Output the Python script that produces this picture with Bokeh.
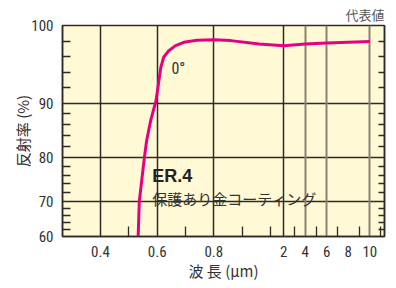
import numpy as np
from bokeh.plotting import figure
from bokeh.models import FixedTicker, LinearAxis, Grid, Label, Range1d
from bokeh.embed import file_html
from bokeh.resources import INLINE

# ---- data ----
wavelength_um = [0.533, 0.537, 0.555, 0.563, 0.577, 0.596, 0.605, 0.613, 0.623,
                 0.641, 0.665, 0.694, 0.741, 0.800, 0.860, 0.960,
                 2.0, 4.0, 6.0, 10.0]
reflectance_pct = [60.0, 70.0, 80.0, 83.1, 86.75, 90.3, 92.6, 94.6, 95.9,
                   96.75, 97.4, 97.83, 98.1, 98.15, 98.05, 97.6,
                   97.4, 97.6, 97.75, 97.95]

x_tick_um = [0.4, 0.6, 0.8, 2, 4, 6, 8, 10]
x_tick_labels = ["0.4", "0.6", "0.8", "2", "4", "6", "8", "10"]
x_minor_um = [0.5, 0.7, 0.9, 1.0, 3, 5, 7, 9, 11]
x_grid_dark_um = [0.4, 0.6, 0.8, 2]
x_grid_light_um = [4, 6, 10]

y_tick_pct = [60, 70, 80, 90, 100]
y_tick_labels = ["60", "70", "80", "90", "100"]
y_minor_pct = [62, 64, 66, 68, 72, 74, 76, 78, 82, 84, 86, 88, 92, 94, 96, 98]
y_grid_pct = [70, 80, 90]

# broken / stretched scales of the original chart
XB_UM = [0.2, 1.0, 2.0, 12.0]
XB_U = [0.2, 1.0, 1.047, 1.047 + 10 * 0.03795]
YB_PCT = [60, 70, 80, 90, 100]
YB_V = [0.0, 35.0, 79.0, 133.3, 210.7]


def to_u(w):
    return [round(float(v), 5) for v in np.interp(np.atleast_1d(w), XB_UM, XB_U)]


def to_v(r):
    return [round(float(v), 5) for v in np.interp(np.atleast_1d(r), YB_PCT, YB_V)]


DARK = "#2e2a26"
LIGHT = "#8a8273"
TXT = "#333333"
NUM_FONT = "Liberation Sans Narrow, Roboto Condensed, Liberation Sans"
CJK_FONT = "Noto Sans CJK JP"

p = figure(frame_width=322, frame_height=211, output_backend="svg",
           toolbar_location=None,
           x_range=Range1d(0.2659, 1.4025), y_range=Range1d(0, 210.7),
           min_border_left=62, min_border_right=12, min_border_top=25,
           min_border_bottom=51,
           background_fill_color="#FFF9D6", border_fill_color="white",
           outline_line_color=DARK, outline_line_width=1.5)

# title used as the small note at the top right
p.title.text = "代表値"
p.title.align = "right"
p.title.text_font = CJK_FONT
p.title.text_font_size = "13px"
p.title.text_font_style = "normal"
p.title.text_color = "#555555"
p.title.standoff = 3

# x axis
xt = to_u(x_tick_um)
p.xaxis.ticker = FixedTicker(ticks=xt, minor_ticks=to_u(x_minor_um))
p.xaxis.major_label_overrides = {t: l for t, l in zip(xt, x_tick_labels)}
p.xaxis.major_tick_in = 0
p.xaxis.major_tick_out = 0
p.xaxis.minor_tick_in = 10
p.xaxis.minor_tick_out = 0
p.xaxis.minor_tick_line_color = DARK
p.xaxis.minor_tick_line_width = 1.3
p.xaxis.axis_line_color = DARK
p.xaxis.axis_line_width = 1.5
p.xaxis.major_label_standoff = 9
p.xaxis.major_label_text_font = NUM_FONT
p.xaxis.major_label_text_font_size = "15px"
p.xaxis.major_label_text_color = TXT
p.xaxis.axis_label = "波 長 (μm)"
p.xaxis.axis_label_text_font = CJK_FONT
p.xaxis.axis_label_text_font_size = "15px"
p.xaxis.axis_label_text_font_style = "normal"
p.xaxis.axis_label_text_color = TXT
p.xaxis.axis_label_standoff = 0

# y axis
yt = to_v(y_tick_pct)
p.yaxis.ticker = FixedTicker(ticks=yt, minor_ticks=to_v(y_minor_pct))
p.yaxis.major_label_overrides = {t: l for t, l in zip(yt, y_tick_labels)}
p.yaxis.major_tick_in = 0
p.yaxis.major_tick_out = 0
p.yaxis.minor_tick_in = 8
p.yaxis.minor_tick_out = 0
p.yaxis.minor_tick_line_color = DARK
p.yaxis.minor_tick_line_width = 1.3
p.yaxis.axis_line_color = DARK
p.yaxis.axis_line_width = 1.5
p.yaxis.major_label_standoff = 9
p.yaxis.major_label_text_font = NUM_FONT
p.yaxis.major_label_text_font_size = "15px"
p.yaxis.major_label_text_color = TXT
p.yaxis.axis_label = "反射率 (%)"
p.yaxis.axis_label_text_font = CJK_FONT
p.yaxis.axis_label_text_font_size = "15px"
p.yaxis.axis_label_text_font_style = "normal"
p.yaxis.axis_label_text_color = TXT
p.yaxis.axis_label_standoff = -5

# right axis with inner ticks only
ra = LinearAxis(ticker=FixedTicker(ticks=yt, minor_ticks=to_v(y_minor_pct)))
ra.major_label_overrides = {t: "" for t in yt}
ra.major_label_text_font_size = "0px"
ra.major_label_standoff = 0
ra.major_tick_in = 0
ra.major_tick_out = 0
ra.minor_tick_in = 6
ra.minor_tick_out = 0
ra.minor_tick_line_color = DARK
ra.minor_tick_line_width = 1.3
ra.axis_line_color = DARK
ra.axis_line_width = 1.5
p.add_layout(ra, "right")

# grids
p.xgrid.ticker = FixedTicker(ticks=to_u(x_grid_dark_um))
p.xgrid.grid_line_color = DARK
p.xgrid.grid_line_width = 1.5
p.add_layout(Grid(dimension=0, ticker=FixedTicker(ticks=to_u(x_grid_light_um)),
                  grid_line_color=LIGHT, grid_line_width=2))
p.ygrid.ticker = FixedTicker(ticks=to_v(y_grid_pct))
p.ygrid.grid_line_color = DARK
p.ygrid.grid_line_width = 1.5

# curve
p.line(to_u(wavelength_um), to_v(reflectance_pct), line_color="#E5007F",
       line_width=3, line_join="round")

# annotations inside the frame
p.add_layout(Label(x=to_u(0.675)[0], y=to_v(94.4)[0], text="0°",
                   text_font=NUM_FONT, text_font_size="16px", text_color=TXT,
                   text_align="center", text_baseline="middle"))
p.add_layout(Label(x=to_u(0.5825)[0], y=to_v(75.84)[0], text="ER.4",
                   text_font="Liberation Sans", text_font_style="bold",
                   text_font_size="18px", text_color="#222222",
                   text_align="left", text_baseline="alphabetic"))
p.add_layout(Label(x=to_u(0.5825)[0], y=to_v(70.6)[0], text="保護あり金コーティング",
                   text_font=CJK_FONT, text_font_size="15px", text_color=TXT,
                   text_align="left", text_baseline="alphabetic"))

open("out.html", "w").write(file_html(p, INLINE))
